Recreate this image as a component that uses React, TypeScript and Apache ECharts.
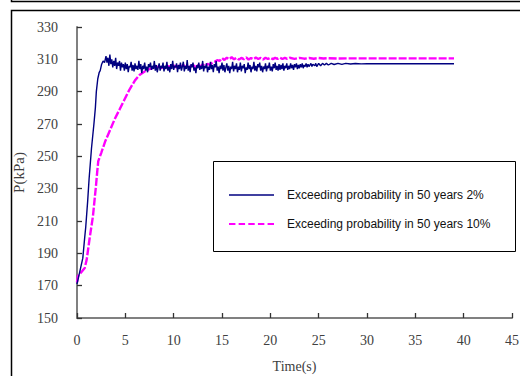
import React, { useEffect, useRef } from "react";
import * as echarts from "echarts";

const seriesNames = [
  "Exceeding probability in 50 years 2%",
  "Exceeding probability in 50 years 10%",
];

const xTicks = { min: 0, max: 45, interval: 5 };
const yTicks = { min: 150, max: 330, interval: 20 };

// [time (s), pressure (kPa)]
const blueData: [number, number][] = [
  [0, 171], [0.3, 179], [0.6, 187], [0.8, 200], [0.9, 206], [1.1, 222], [1.25, 236],
  [1.5, 255], [1.75, 270], [1.9, 280], [2.0, 290], [2.15, 298], [2.3, 302], [2.4, 303],
  [2.55, 307], [2.7, 309], [2.85, 308],
  [3.0, 312], [3.1, 308], [3.2, 311], [3.3, 306], [3.4, 313], [3.5, 307], [3.6, 310], [3.7, 305], [3.8, 309], [3.9, 306],
  [4.0, 311], [4.1, 304], [4.2, 308], [4.3, 306], [4.4, 309], [4.5, 303], [4.6, 308], [4.7, 305], [4.8, 307], [4.9, 303],
  [5.0, 308], [5.1, 304], [5.2, 307], [5.3, 302], [5.4, 306], [5.5, 305], [5.6, 308.5], [5.7, 303], [5.8, 306.5], [5.9, 302.5],
  [6.0, 307.5], [6.1, 304], [6.2, 306], [6.3, 303.5], [6.4, 309], [6.5, 304], [6.6, 307], [6.7, 301.5], [6.8, 306], [6.9, 304],
  [7.0, 308], [7.1, 303], [7.2, 305.5], [7.3, 302], [7.4, 307], [7.5, 305], [7.6, 308], [7.7, 303.5], [7.8, 306], [7.9, 304],
  [8.0, 309], [8.1, 303], [8.2, 306.5], [8.3, 302], [8.4, 305], [8.5, 307.5], [8.6, 303], [8.7, 306], [8.8, 304.5], [8.9, 308],
  [9.0, 302.5], [9.1, 306], [9.2, 304], [9.3, 308.5], [9.4, 303], [9.5, 305.5], [9.6, 302], [9.7, 307], [9.8, 304], [9.9, 309],
  [10.0, 303.5], [10.1, 306], [10.2, 305], [10.3, 307.5], [10.4, 302], [10.5, 306.5], [10.6, 304], [10.7, 308], [10.8, 303], [10.9, 305.5],
  [11.0, 308.5], [11.1, 302.5], [11.2, 306], [11.3, 304], [11.4, 309.5], [11.5, 303], [11.6, 306], [11.7, 302], [11.8, 307], [11.9, 305],
  [12.0, 308], [12.1, 303], [12.2, 305], [12.3, 301.5], [12.4, 306.5], [12.5, 304.5], [12.6, 308], [12.7, 303.5], [12.8, 306], [12.9, 304],
  [13.0, 309], [13.1, 302.5], [13.2, 306], [13.3, 304.5], [13.4, 307.5], [13.5, 302], [13.6, 305.5], [13.7, 303.5], [13.8, 308.5], [13.9, 304],
  [14.0, 306.5], [14.1, 302], [14.2, 307], [14.3, 305], [14.4, 309], [14.5, 303], [14.6, 305.5], [14.7, 301.5], [14.8, 306], [14.9, 304],
  [15.0, 308], [15.1, 303], [15.2, 306.5], [15.3, 302], [15.4, 305], [15.5, 307.5], [15.6, 303], [15.7, 306], [15.8, 301.5], [15.9, 305.5],
  [16.0, 304], [16.1, 308.5], [16.2, 302.5], [16.3, 306], [16.4, 304], [16.5, 307.5], [16.6, 302], [16.7, 305.5], [16.8, 303.5], [16.9, 308],
  [17.0, 302.5], [17.1, 306], [17.2, 304.5], [17.3, 307], [17.4, 301.5], [17.5, 305], [17.6, 303.5], [17.7, 308], [17.8, 304], [17.9, 306.5],
  [18.0, 302], [18.1, 305.5], [18.2, 304], [18.3, 308.5], [18.4, 303], [18.5, 306], [18.6, 302.5], [18.7, 307], [18.8, 305], [18.9, 308],
  [19.0, 303], [19.1, 306], [19.2, 302], [19.3, 305.5], [19.4, 304], [19.5, 307.5], [19.6, 302.5], [19.7, 306], [19.8, 304.5], [19.9, 308],
  [20.0, 303], [20.1, 305.5], [20.2, 302.5], [20.3, 307], [20.4, 304.5], [20.5, 308], [20.6, 303.5], [20.7, 306], [20.8, 303], [20.9, 307],
  [21.0, 303.5], [21.1, 306.5], [21.2, 304], [21.3, 307.5], [21.4, 303], [21.5, 306], [21.6, 304.5], [21.7, 307.5], [21.8, 303.5], [21.9, 306],
  [22.0, 304], [22.1, 307.5], [22.2, 304.5], [22.3, 306.5], [22.4, 303.5], [22.5, 307], [22.6, 305], [22.7, 307.5], [22.8, 304], [22.9, 306.5],
  [23.0, 304.5], [23.1, 307], [23.2, 305], [23.3, 307.5], [23.4, 304.5], [23.5, 306.5], [23.6, 305.5], [23.7, 307.5], [23.8, 305], [23.9, 307],
  [24.0, 305.5], [24.2, 307.5], [24.3, 305.5], [24.4, 307], [24.6, 306], [24.7, 307.5], [24.8, 305.5], [25.0, 307.5], [25.2, 306],
  [25.4, 307.5], [25.6, 306.5], [25.8, 307.5], [26.0, 306.5], [26.3, 307.5], [26.6, 306.8], [27.0, 307.5], [27.4, 306.9],
  [27.8, 307.5], [28.3, 307.1], [28.8, 307.4], [29.4, 307.2], [30.0, 307.3], [39.0, 307.3],
];

const pinkData: [number, number][] = [
  [0, 172], [0.1, 176], [0.4, 178], [0.8, 181], [1.0, 186], [1.3, 199], [1.5, 207],
  [1.65, 213], [1.8, 222], [1.95, 231], [2.1, 241], [2.2, 247], [2.5, 252], [2.9, 259],
  [3.4, 266], [3.9, 273], [4.4, 279], [4.9, 285], [5.4, 291], [6.0, 297], [6.5, 300.5],
  [7.0, 302.5], [7.5, 304], [8.0, 305], [8.5, 305.5], [8.75, 304.5], [9.0, 306], [9.25, 305],
  [9.5, 305.8], [9.75, 304.8], [10.0, 306.2], [10.25, 305], [10.5, 306], [10.75, 305.2],
  [11.0, 306.5], [11.25, 305], [11.5, 306], [11.75, 305.5], [12.0, 306.5], [12.25, 305.3],
  [12.5, 306.3], [12.75, 305.6], [13.0, 306.8], [13.25, 306], [13.5, 307.2], [13.75, 306.5],
  [14.0, 308], [14.25, 308.5], [14.5, 309.5], [14.75, 309], [15.0, 310.8], [15.25, 309.6],
  [15.5, 311], [15.75, 310], [16.0, 311.3], [16.25, 310], [16.5, 311], [16.75, 309.8],
  [17.0, 310.9], [17.25, 310.1], [17.5, 311.2], [17.75, 309.9], [18.0, 310.8], [18.25, 310],
  [18.5, 311.1], [18.75, 310.2], [19.0, 310.9], [19.25, 309.9], [19.5, 311], [19.75, 310.2],
  [20.0, 311], [20.25, 310.1], [20.5, 310.9], [20.75, 310.3], [21.0, 311.1], [21.25, 310.2],
  [21.5, 310.9], [21.75, 310.3], [22.0, 311], [22.5, 310.3], [23.0, 310.9], [23.5, 310.4],
  [24.0, 310.8], [24.5, 310.4], [25.0, 310.8], [25.5, 310.5], [26.0, 310.7], [27.0, 310.5],
  [28.0, 310.6], [39.0, 310.6],
];

const serif = "'Liberation Serif', 'DejaVu Serif', serif";
const solidIcon = "path://M0,0h45v1.6h-45z";
const dashIcon =
  "path://M0,0h6v2h-6zM9,0h6v2h-6zM18,0h6v2h-6zM27,0h6v2h-6zM36,0h6v2h-6z";

export default function App() {
  const ref = useRef<HTMLDivElement>(null);
  useEffect(() => {
    if (!ref.current) return;
    const chart = echarts.init(ref.current, undefined, { renderer: "svg" });
    chart.setOption({
      animation: false,
      backgroundColor: "#fff",
      grid: {
        left: 77,
        right: 8,
        top: 27,
        bottom: 58,
        containLabel: false,
        outerBoundsMode: "none",
      },
      legend: {
        orient: "vertical",
        left: 224,
        top: 184,
        itemWidth: 45,
        itemHeight: 14,
        itemGap: 17,
        textStyle: {
          fontFamily: "'Liberation Sans', Arial, sans-serif",
          fontSize: 12,
          color: "#111",
          padding: [0, 0, 0, 8],
        },
        data: [
          { name: seriesNames[0], icon: solidIcon },
          { name: seriesNames[1], icon: dashIcon },
        ],
      },
      xAxis: {
        type: "value",
        min: xTicks.min,
        max: xTicks.max,
        interval: xTicks.interval,
        name: "Time(s)",
        nameLocation: "middle",
        nameGap: 41,
        nameTextStyle: { fontFamily: serif, fontSize: 14, color: "#404040" },
        axisLine: { lineStyle: { color: "#808080", width: 2 } },
        axisTick: { inside: true, length: 5, lineStyle: { color: "#333", width: 1.3 } },
        axisLabel: { margin: 15, fontFamily: serif, fontSize: 14, color: "#404040" },
        splitLine: { show: false },
      },
      yAxis: {
        type: "value",
        min: yTicks.min,
        max: yTicks.max,
        interval: yTicks.interval,
        name: "P(kPa)",
        nameLocation: "middle",
        nameGap: 50,
        nameTextStyle: { fontFamily: serif, fontSize: 15, color: "#404040" },
        axisLine: { show: true, lineStyle: { color: "#808080", width: 2 } },
        axisTick: { show: true, inside: true, length: 5, lineStyle: { color: "#333", width: 1.3 } },
        axisLabel: { margin: 19, fontFamily: serif, fontSize: 14, color: "#404040" },
        splitLine: { show: false },
      },
      graphic: [
        {
          type: "rect",
          shape: { x: 11.5, y: -20, width: 600, height: 21.5 },
          style: { fill: "none", stroke: "#000", lineWidth: 1.5 },
          z: 100,
        },
        {
          type: "rect",
          shape: { x: 11.5, y: 10.5, width: 600, height: 400 },
          style: { fill: "none", stroke: "#000", lineWidth: 1.5 },
          z: 100,
        },
        {
          type: "rect",
          shape: { x: 213.5, y: 161.5, width: 302, height: 90 },
          style: { fill: "none", stroke: "#000", lineWidth: 1 },
          z: 100,
        },
      ],
      series: [
        {
          name: seriesNames[0],
          type: "line",
          data: blueData,
          showSymbol: false,
          symbol: "none",
          lineStyle: { color: "#000080", width: 1.4 },
          itemStyle: { color: "#000080" },
          z: 3,
        },
        {
          name: seriesNames[1],
          type: "line",
          data: pinkData,
          showSymbol: false,
          symbol: "none",
          lineStyle: { color: "#ff00ff", width: 2.4, type: [8, 2] },
          itemStyle: { color: "#ff00ff" },
          z: 2,
        },
      ],
    });
    return () => chart.dispose();
  }, []);
  return (
    <div
      ref={ref}
      style={{ position: "fixed", left: 0, top: 0, width: 520, height: 376, background: "#fff" }}
    />
  );
}
